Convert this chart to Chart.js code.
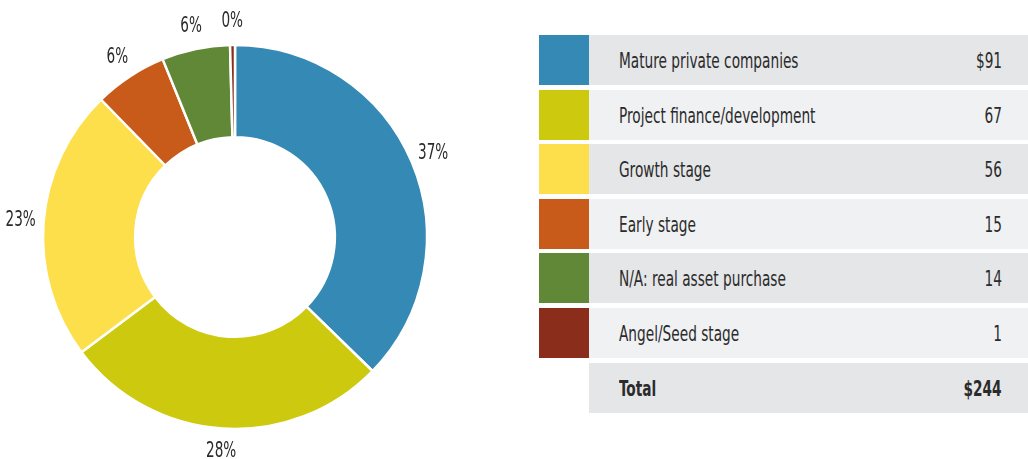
<!DOCTYPE html>
<html><head><meta charset="utf-8">
<script src="https://cdn.jsdelivr.net/npm/chart.js@4.4.1/dist/chart.umd.min.js"></script>
<style>
html,body{margin:0;padding:0;background:#fff;width:1028px;height:459px;overflow:hidden;}
body{font-family:"DejaVu Sans Condensed","DejaVu Sans",sans-serif;color:#2b2b2b;}
#wrap{position:absolute;left:0;top:0;width:470px;height:459px;}
#tbl{position:absolute;left:539px;top:35px;width:489px;}
.row{position:relative;height:50px;margin-bottom:4.6px;}
.sw{position:absolute;left:0;top:0;width:50px;height:50px;}
.bg{position:absolute;left:50px;top:0;right:0;height:50px;}
.lab{position:absolute;left:80px;top:1px;line-height:50px;font-size:21px;white-space:nowrap;}
.val{position:absolute;right:26px;top:1px;line-height:50px;font-size:21px;white-space:nowrap;}
.lab span{display:inline-block;transform:scaleX(0.725);transform-origin:left center;}
.val span{display:inline-block;transform:scaleX(0.725);transform-origin:right center;}
.tot .lab,.tot .val{font-weight:bold;}
</style></head>
<body>
<div id="wrap"><canvas id="c"></canvas></div>
<div id="tbl"></div>
<script>
const categories = ["Mature private companies","Project finance/development","Growth stage","Early stage","N/A: real asset purchase","Angel/Seed stage"];
const values = [91,67,56,15,14,1];
const valueLabels = ["$91","67","56","15","14","1"];
const pctLabels = ["37%","28%","23%","6%","6%","0%"];
const totalLabel = "Total";
const totalValue = "$244";
const colors = ["#3589b5","#cdc90f","#fddf4b","#c85b19","#608837","#8a2d1b"];
const rowBgs = ["#e5e6e8","#f0f1f3"];

// table legend
const tbl = document.getElementById('tbl');
categories.forEach((c,i)=>{
  const r=document.createElement('div');r.className='row';
  r.innerHTML=`<div class="sw" style="background:${colors[i]}"></div><div class="bg" style="background:${rowBgs[i%2]}"></div><div class="lab"><span>${c}</span></div><div class="val"><span>${valueLabels[i]}</span></div>`;
  tbl.appendChild(r);
});
const tr=document.createElement('div');tr.className='row tot';
tr.innerHTML=`<div class="bg" style="background:${rowBgs[0]}"></div><div class="lab"><span>${totalLabel}</span></div><div class="val"><span>${totalValue}</span></div>`;
tbl.appendChild(tr);

const outLabels = {
  id:'outLabels',
  afterDatasetsDraw(chart){
    const ctx=chart.ctx;
    const meta=chart.getDatasetMeta(0);
    ctx.save();
    ctx.font='21px "DejaVu Sans Condensed","DejaVu Sans",sans-serif';
    ctx.fillStyle='#2b2b2b';
    ctx.textAlign='center';ctx.textBaseline='middle';
    meta.data.forEach((arc,i)=>{
      const p=arc.getProps(['x','y','startAngle','endAngle','outerRadius'],true);
      const a=(p.startAngle+p.endAngle)/2;
      const r=p.outerRadius+23;
      ctx.save();
      ctx.translate(p.x+Math.cos(a)*r, p.y+Math.sin(a)*r);
      ctx.scale(0.72,1);
      ctx.fillText(pctLabels[i],0,0);
      ctx.restore();
    });
    ctx.restore();
  }
};

new Chart(document.getElementById('c'),{
  type:'doughnut',
  data:{labels:categories,datasets:[{data:values,backgroundColor:colors,borderColor:'#fff',borderWidth:2.5,radius:192,cutout:'52%'}]},
  options:{
    responsive:true,maintainAspectRatio:false,animation:false,
    layout:{padding:{top:30,bottom:15}},
    plugins:{legend:{display:false},tooltip:{enabled:false}}
  },
  plugins:[outLabels]
});
</script>
</body></html>
